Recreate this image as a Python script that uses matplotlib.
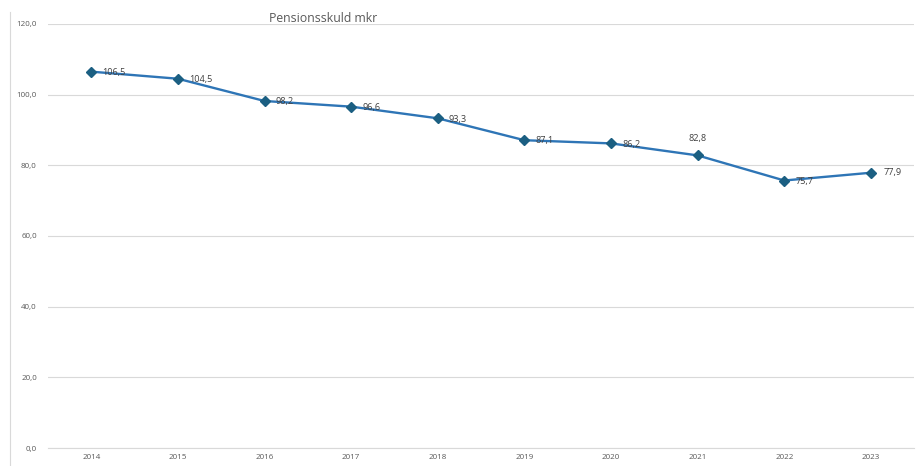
import matplotlib
matplotlib.use("Agg")
import matplotlib.pyplot as plt
from matplotlib.lines import Line2D

years = ["2014", "2015", "2016", "2017", "2018", "2019", "2020", "2021", "2022", "2023"]
values = [106.5, 104.5, 98.2, 96.6, 93.3, 87.1, 86.2, 82.8, 75.7, 77.9]
yticks = [0, 20, 40, 60, 80, 100, 120]
title = "Pensionsskuld mkr"

plt.rcParams['font.family'] = ['Open Sans', 'DejaVu Sans']

fig = plt.figure(figsize=(9.17, 4.66), dpi=100)
ax = fig.add_axes([0.0523, 0.0386, 0.9447, 0.91])

x = list(range(len(years)))
ax.plot(x, values, color="#2E75B6", lw=1.7, zorder=3)
ax.plot(x, values, linestyle="none", marker="D", markersize=4.8,
        color="#1B5F82", zorder=4)

for i, v in enumerate(values):
    lbl = f"{v:.1f}".replace(".", ",")
    if years[i] == "2021":
        ax.annotate(lbl, (i, v), xytext=(0, 9), textcoords="offset points",
                    ha="center", va="bottom", fontsize=6.6, color="#404040")
    elif years[i] == "2023":
        ax.annotate(lbl, (i, v), xytext=(9, 0), textcoords="offset points",
                    ha="left", va="center", fontsize=6.6, color="#404040")
    else:
        ax.annotate(lbl, (i, v), xytext=(8, -0.5), textcoords="offset points",
                    ha="left", va="center", fontsize=6.6, color="#404040")

ax.set_xlim(-0.5, len(years) - 0.5)
ax.set_ylim(0, 120)
ax.set_yticks(yticks)
ax.set_yticklabels([f"{t:.1f}".replace(".", ",") for t in yticks])
ax.set_xticks(x)
ax.set_xticklabels(years)
ax.tick_params(axis="both", length=0, labelsize=5.8, labelcolor="#595959")
ax.tick_params(axis="y", pad=8)
ax.tick_params(axis="x", pad=4)
ax.grid(axis="y", color="#D9D9D9", lw=0.8)
ax.set_axisbelow(True)
for s in ["top", "right", "left"]:
    ax.spines[s].set_visible(False)
ax.spines["bottom"].set_color("#D9D9D9")
ax.spines["bottom"].set_linewidth(0.8)

fig.text(323 / 917, 1 - 18 / 466, title, ha="center", va="center",
         fontsize=8.8, color="#595959")

fig.add_artist(Line2D([9.5 / 917, 9.5 / 917], [0, 1 - 12 / 466],
                      transform=fig.transFigure, color="#D9D9D9", lw=0.8))

fig.savefig("out.png", dpi=100)
